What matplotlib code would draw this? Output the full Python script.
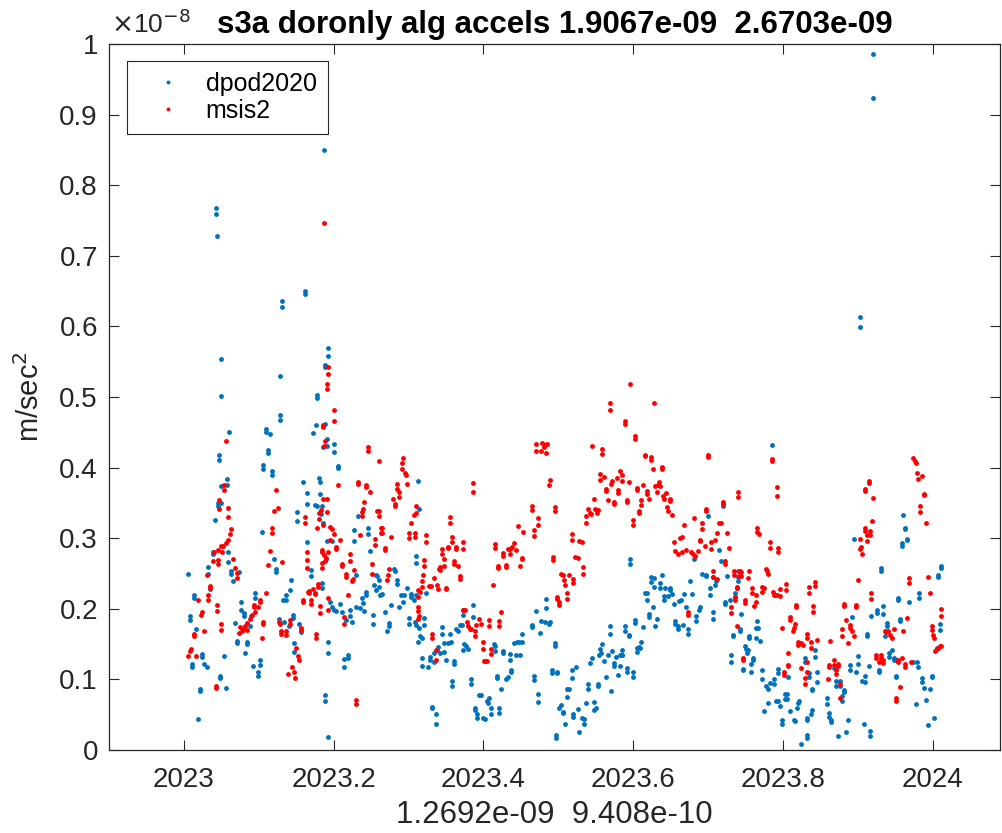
import numpy as np
import matplotlib
matplotlib.use("Agg")
import matplotlib.pyplot as plt

plt.rcParams['font.family'] = ['Liberation Sans', 'DejaVu Sans']

# ----- data: (day of 2023, acceleration in 1e-9 m/s^2) -----
dpod_seg1 = [
    (15.5, 7.68), (15.5, 7.59), (16.0, 7.28), (68.2, 8.50), (58.9, 6.50), (58.9, 6.46), (48.0, 6.36), (48.0, 6.27),
    (18.1, 5.54), (47.0, 5.30), (18.1, 5.02), (47.1, 4.75), (47.1, 4.68), (21.8, 4.51), (39.8, 4.55), (39.8, 4.50),
    (41.9, 4.47), (16.9, 4.18), (16.9, 4.11), (40.8, 4.25), (40.8, 4.20), (38.8, 4.03), (38.8, 3.98), (42.9, 3.95),
    (42.9, 3.89), (21.0, 3.84), (17.9, 3.74), (21.0, 3.75), (57.9, 3.80), (59.9, 3.64), (16.8, 3.50), (16.5, 3.46),
    (18.1, 3.50), (59.9, 3.48), (55.0, 3.37), (55.0, 3.24), (15.0, 3.26), (38.0, 3.09), (59.9, 2.94), (14.0, 2.80),
    (14.0, 2.77), (21.3, 2.80), (43.9, 2.70), (21.3, 2.66), (23.0, 2.54), (23.0, 2.50), (24.0, 2.39), (26.9, 2.52),
    (11.9, 2.59), (11.9, 2.50), (44.8, 2.56), (44.8, 2.52), (1.9, 2.49), (52.0, 2.41), (12.9, 2.28), (4.9, 2.20),
    (4.9, 2.16), (51.9, 2.26), (34.9, 2.23), (34.9, 2.16), (27.9, 2.09), (27.9, 1.99), (29.2, 1.94), (29.2, 1.90),
    (49.6, 2.19), (49.6, 2.13), (48.3, 2.13), (53.0, 1.91), (53.0, 1.87), (2.9, 1.90), (2.9, 1.84), (24.9, 1.80),
    (32.0, 1.76), (32.8, 1.90), (46.2, 1.86), (48.9, 1.82), (51.1, 1.75), (6.0, 1.71), (56.0, 1.78), (56.9, 1.67),
    (25.9, 1.54), (25.9, 1.52), (30.8, 1.53), (30.8, 1.50), (53.8, 1.51), (53.8, 1.39), (30.0, 1.38), (9.0, 1.36),
    (9.0, 1.32), (19.6, 1.33), (9.9, 1.22), (11.1, 1.18), (3.9, 1.22), (3.9, 1.17), (33.9, 1.19), (36.9, 1.27),
    (36.9, 1.21), (36.0, 1.10), (36.0, 1.05), (17.4, 1.05), (17.4, 1.02), (8.0, 0.87), (8.0, 0.83), (20.5, 0.88),
    (6.8, 0.44),
]
dpod_seg2 = [
    (70.2, 5.70), (70.2, 5.58), (68.7, 5.46), (68.7, 5.43), (65.0, 5.03), (65.0, 4.98), (64.5, 4.61), (68.7, 4.62),
    (63.0, 4.49), (70.0, 4.41), (67.8, 4.29), (70.0, 4.31), (73.3, 4.34), (73.3, 4.22), (74.9, 4.02), (74.9, 3.99),
    (66.0, 3.85), (66.4, 3.79), (66.4, 3.63), (63.8, 3.47), (65.0, 3.46), (67.4, 3.46), (66.9, 3.34), (67.9, 3.21),
    (114.3, 3.81), (114.4, 3.41), (85.0, 3.31), (82.9, 3.12), (82.9, 2.96), (89.9, 3.14), (89.9, 3.06), (90.8, 2.82),
    (69.7, 2.96), (72.0, 2.96), (69.1, 2.70), (62.0, 2.55), (62.0, 2.46), (113.4, 2.75), (113.4, 2.65), (84.1, 2.48),
    (102.2, 2.56), (102.8, 2.54), (104.0, 2.41), (104.0, 2.35), (93.5, 2.48), (94.0, 2.46), (95.0, 2.41), (95.3, 2.31),
    (95.7, 2.19), (96.8, 2.21), (92.7, 2.34), (93.5, 2.26), (67.1, 2.37), (67.1, 2.30), (108.9, 2.29), (89.0, 2.24),
    (89.0, 2.19), (87.0, 2.16), (87.3, 2.08), (85.9, 2.01), (88.0, 1.97), (84.1, 2.02), (110.8, 2.21), (110.8, 2.17),
    (105.9, 2.19), (107.2, 2.19), (106.9, 2.10), (105.0, 2.02), (113.1, 2.20), (112.1, 2.12), (118.0, 2.22), (72.0, 2.03),
    (73.0, 1.99), (74.0, 1.97), (71.0, 2.09), (76.1, 2.07), (77.1, 1.96), (81.0, 1.99), (80.8, 1.90), (82.1, 1.81),
    (79.2, 1.84), (92.1, 1.91), (92.1, 1.78), (97.9, 1.96), (101.0, 2.05), (99.9, 1.80), (99.9, 1.75), (98.9, 1.68),
    (109.7, 1.87), (109.7, 1.79), (112.8, 1.81), (113.4, 1.77), (114.6, 1.73), (116.9, 1.87), (116.9, 1.77), (115.2, 1.61),
    (116.0, 1.58), (113.9, 1.53), (70.5, 1.53), (70.5, 1.38), (80.0, 1.35), (80.0, 1.30), (78.0, 1.29), (78.0, 1.17),
    (116.2, 1.31), (116.2, 1.19), (118.8, 1.18), (120.0, 1.32), (120.0, 1.27), (121.9, 1.37), (121.9, 1.25), (123.2, 1.41),
    (123.9, 1.46), (68.9, 0.78), (68.9, 0.70), (121.0, 0.61), (121.0, 0.59), (122.8, 0.51), (122.8, 0.37), (70.4, 0.19),
]
dpod_seg3 = [
    (181.5, 0.21), (181.5, 0.17), (181.8, 1.11), (181.8, 1.09), (176.4, 2.14), (176.7, 2.01), (171.8, 1.97), (169.7, 1.77),
    (169.7, 1.74), (174.3, 1.83), (176.2, 1.81), (177.9, 1.78), (178.5, 1.82), (173.6, 1.66), (164.8, 1.64), (164.8, 1.53),
    (163.2, 1.53), (162.5, 1.53), (160.7, 1.51), (180.8, 1.51), (180.8, 1.48), (161.9, 1.34), (163.7, 1.35), (158.9, 1.36),
    (158.9, 1.28), (155.8, 1.40), (155.8, 1.38), (151.1, 1.50), (151.9, 1.48), (151.8, 1.40), (159.7, 1.14), (159.7, 1.11),
    (157.8, 1.04), (156.8, 1.00), (152.7, 1.05), (152.7, 1.02), (154.7, 0.86), (170.8, 1.05), (170.8, 0.99), (172.8, 0.79),
    (172.8, 0.68), (179.7, 1.14), (179.7, 1.09), (140.8, 2.06), (141.0, 1.89), (136.1, 1.91), (136.1, 1.98), (134.8, 1.77),
    (135.6, 1.77), (132.8, 1.71), (133.5, 1.68), (129.9, 1.64), (130.0, 1.53), (128.6, 1.51), (125.8, 1.74), (125.8, 1.64),
    (126.9, 1.51), (124.7, 1.38), (126.9, 1.39), (127.8, 1.27), (131.8, 1.26), (131.8, 1.22), (136.7, 1.50), (137.6, 1.48),
    (138.7, 1.43), (135.9, 1.42), (130.9, 0.98), (130.9, 0.91), (139.8, 1.00), (139.8, 0.94), (146.7, 0.44), (145.7, 0.46),
    (142.8, 0.51), (142.8, 0.46), (141.8, 0.59), (141.8, 0.56), (144.1, 0.78), (144.9, 0.78), (147.8, 0.69), (148.5, 0.66),
    (149.8, 0.60), (149.8, 0.51), (148.8, 0.74), (153.7, 0.59), (153.7, 0.52), (182.8, 0.60), (183.7, 0.64), (184.9, 0.54),
    (184.9, 0.52), (185.7, 0.37), (186.8, 0.86), (187.5, 0.87),
]
dpod_seg4 = [
    (217.7, 2.70), (217.7, 2.64), (227.7, 2.45), (229.0, 2.44), (232.9, 2.48), (227.7, 2.38), (229.2, 2.31), (231.9, 2.30),
    (231.9, 2.37), (225.7, 2.22), (224.8, 2.22), (225.7, 2.12), (234.5, 2.30), (236.8, 2.30), (236.8, 2.27), (235.9, 2.18),
    (233.9, 2.18), (233.9, 2.12), (237.8, 2.21), (241.6, 2.11), (242.4, 2.12), (243.8, 2.21), (238.8, 2.07), (244.8, 2.02),
    (246.8, 2.40), (247.9, 2.21), (248.9, 2.70), (228.7, 2.02), (226.7, 1.92), (226.7, 1.89), (230.6, 1.85), (229.8, 1.76),
    (223.8, 1.74), (239.6, 1.83), (239.6, 1.79), (240.7, 1.76), (240.7, 1.72), (243.2, 1.77), (245.8, 1.71), (245.8, 1.65),
    (249.7, 1.90), (249.7, 1.83), (250.9, 1.99), (251.5, 2.03), (219.9, 1.84), (219.9, 1.80), (214.8, 1.76), (214.8, 1.69),
    (216.9, 1.63), (216.9, 1.61), (223.0, 1.53), (220.8, 1.44), (221.7, 1.46), (222.5, 1.45), (220.8, 1.39), (207.8, 1.75),
    (207.8, 1.65), (213.7, 1.42), (213.7, 1.34), (203.7, 1.50), (202.9, 1.43), (203.5, 1.38), (202.6, 1.35), (208.8, 1.40),
    (206.8, 1.35), (210.7, 1.32), (212.7, 1.34), (213.8, 1.34), (198.8, 1.30), (198.0, 1.23), (204.8, 1.26), (209.7, 1.23),
    (209.7, 1.19), (212.7, 1.19), (215.9, 1.16), (215.9, 1.11), (218.9, 1.10), (218.9, 1.04), (211.5, 1.06), (191.0, 1.18),
    (189.0, 1.13), (189.0, 1.02), (206.0, 1.03), (196.8, 0.93), (196.8, 0.86), (201.9, 0.93), (201.9, 0.90), (208.1, 0.84),
    (186.9, 0.75), (189.8, 0.51), (189.8, 0.47), (191.9, 0.58), (193.9, 0.46), (194.9, 0.44), (194.9, 0.37), (195.9, 0.67),
    (200.1, 0.68), (200.9, 0.59), (199.9, 0.57), (192.8, 0.26),
]
dpod_seg5 = [
    (286.7, 4.32), (255.7, 3.31), (262.6, 3.46), (260.9, 2.83), (261.9, 2.68), (252.8, 2.49), (254.7, 2.48), (254.7, 2.46),
    (257.7, 2.45), (259.6, 2.40), (259.0, 2.34), (256.4, 2.29), (256.7, 2.19), (264.9, 2.46), (269.9, 2.53), (270.2, 2.45),
    (270.1, 2.39), (269.6, 2.29), (268.9, 2.22), (268.8, 2.17), (263.9, 2.09), (263.9, 2.07), (266.0, 2.12), (257.7, 1.96),
    (257.7, 1.85), (271.7, 1.92), (270.9, 1.71), (270.9, 1.69), (279.5, 1.83), (279.1, 1.73), (279.9, 1.73), (275.6, 1.62),
    (275.6, 1.59), (278.7, 1.58), (280.8, 1.54), (267.8, 1.63), (267.8, 1.61), (266.8, 1.34), (266.8, 1.24), (273.5, 1.47),
    (273.8, 1.43), (274.6, 1.38), (275.1, 1.41), (276.4, 1.22), (277.6, 1.30), (277.6, 1.27), (272.7, 1.15), (272.7, 1.13),
    (276.6, 1.11), (281.7, 1.13), (281.7, 1.00), (283.8, 0.90), (284.8, 0.86), (285.7, 0.95), (287.7, 1.00), (287.7, 0.93),
    (289.7, 1.15), (289.7, 1.09), (294.7, 1.03), (292.8, 0.80), (293.9, 0.79), (292.9, 0.72), (293.9, 0.72), (289.7, 0.70),
    (290.6, 0.63), (288.7, 0.69), (284.8, 0.67), (282.6, 0.55), (291.8, 0.43), (291.8, 0.37), (295.7, 0.55), (297.3, 0.42),
    (298.1, 0.41), (299.0, 0.59), (299.6, 0.67), (299.8, 0.69), (300.8, 0.09), (303.9, 0.21), (303.9, 0.17), (303.7, 0.46),
    (303.7, 0.42), (306.1, 0.57), (305.7, 0.51), (302.7, 1.30), (302.7, 1.24), (307.6, 1.41), (307.6, 1.32), (306.1, 0.87),
    (306.1, 0.85), (304.5, 1.09), (304.5, 1.03), (308.6, 1.11), (308.6, 0.97), (313.7, 0.74), (313.7, 0.65), (314.6, 0.52),
    (314.6, 0.47),
]
dpod_seg6 = [
    (335.7, 9.86), (335.7, 9.24), (329.6, 6.14), (329.6, 5.99),
    (350.7, 3.33), (351.7, 3.15), (351.7, 3.13), (352.7, 2.99), (352.7, 2.97), (350.1, 2.93), (350.1, 2.89), (326.6, 2.99),
    (339.6, 2.58), (339.6, 2.54), (369.2, 2.61), (369.2, 2.58), (367.4, 2.48), (367.4, 2.45), (358.6, 2.22), (358.6, 2.15),
    (348.1, 2.16), (348.1, 2.12), (353.7, 2.09), (340.8, 2.04), (337.7, 1.98), (337.7, 1.94), (340.6, 1.92), (335.1, 1.90),
    (325.6, 1.89), (349.1, 1.86), (349.1, 1.83), (342.8, 1.80), (342.8, 1.76), (368.5, 1.78), (368.5, 1.70), (333.0, 1.65),
    (333.0, 1.62), (341.6, 1.61), (366.9, 1.44), (367.6, 1.45), (345.0, 1.42), (343.9, 1.38), (343.9, 1.32), (346.0, 1.30),
    (346.0, 1.27), (347.0, 1.27), (328.6, 1.33), (328.6, 1.22), (324.8, 1.20), (324.8, 1.14), (327.7, 1.10), (333.8, 1.19),
    (338.8, 1.14), (338.8, 1.10), (355.5, 1.25), (357.6, 1.24), (357.9, 1.18), (347.2, 1.05), (347.2, 1.03), (359.6, 1.02),
    (359.6, 0.96), (364.8, 1.05), (364.8, 1.03), (316.8, 1.16), (317.8, 0.98), (319.7, 0.98), (319.7, 0.90), (317.8, 0.91),
    (330.5, 0.98), (332.1, 0.96), (332.1, 1.05), (360.7, 0.88), (363.6, 0.86), (321.7, 0.85), (321.7, 0.82), (320.7, 0.77),
    (320.7, 0.69), (361.8, 0.71), (356.8, 0.65), (315.7, 0.42), (315.7, 0.40), (323.7, 0.42), (331.7, 0.37), (365.6, 0.46),
    (362.7, 0.35), (334.4, 0.27), (334.4, 0.20), (322.7, 0.25), (318.8, 0.20),
]

msis_seg1 = [
    (68.2, 7.47), (20.4, 4.38), (44.7, 3.68), (43.9, 3.39), (46.0, 3.43), (19.6, 3.75), (19.4, 3.68), (17.3, 3.54),
    (17.3, 3.42), (21.4, 3.43), (21.4, 3.30), (23.0, 3.13), (22.3, 3.06), (21.4, 2.97), (20.4, 2.93), (19.2, 2.89),
    (18.1, 2.89), (16.5, 2.83), (14.8, 2.80), (14.0, 2.67), (16.8, 2.69), (16.8, 2.64), (18.4, 2.80), (42.9, 3.14),
    (42.9, 3.07), (41.9, 2.82), (40.8, 2.62), (48.0, 2.66), (58.9, 3.30), (58.9, 3.22), (60.2, 2.80), (59.9, 2.69),
    (59.9, 2.58), (24.0, 2.70), (24.9, 2.58), (26.1, 2.51), (26.1, 2.43), (11.1, 2.48), (12.9, 2.32), (12.9, 2.30),
    (11.9, 2.19), (11.9, 2.12), (16.0, 2.06), (16.0, 1.97), (7.0, 2.12), (9.0, 1.96), (8.3, 1.91), (40.0, 2.22),
    (36.9, 2.13), (36.9, 2.10), (34.1, 2.06), (34.1, 2.03), (35.9, 2.03), (34.9, 1.95), (33.0, 1.91), (32.0, 1.86),
    (31.0, 1.80), (29.8, 1.75), (29.0, 1.71), (27.2, 1.74), (27.1, 1.66), (28.5, 1.69), (30.7, 1.70), (38.8, 1.81),
    (38.8, 1.78), (18.1, 1.78), (18.1, 1.70), (9.8, 1.68), (4.9, 1.64), (4.9, 1.61), (38.0, 1.58), (46.6, 1.82),
    (47.1, 1.78), (47.3, 1.68), (47.3, 1.65), (49.7, 1.68), (49.7, 1.63), (51.9, 1.84), (51.9, 1.79), (56.9, 1.73),
    (56.9, 1.70), (57.9, 2.12), (57.9, 2.09), (60.5, 2.24), (54.8, 1.44), (55.6, 1.33), (56.0, 1.27), (3.7, 1.43),
    (3.1, 1.40), (2.1, 1.33), (6.0, 1.33), (52.7, 1.18), (53.5, 1.11), (54.0, 1.02), (50.9, 1.07), (15.5, 0.91),
    (15.5, 0.88),
]
msis_seg2 = [
    (70.2, 5.42), (70.2, 5.33), (69.9, 5.19), (69.9, 5.12), (73.3, 4.81), (73.3, 4.66), (67.8, 4.60), (67.8, 4.58),
    (68.7, 4.37), (68.4, 4.30), (89.9, 4.29), (89.9, 4.23), (95.2, 4.09), (106.9, 4.13), (106.1, 4.06), (106.1, 3.98),
    (107.7, 3.93), (108.1, 3.89), (108.9, 3.77), (74.9, 3.75), (84.9, 3.80), (84.9, 3.77), (89.0, 3.76), (89.0, 3.72),
    (90.9, 3.66), (103.8, 3.77), (103.8, 3.70), (104.8, 3.65), (104.8, 3.59), (101.9, 3.55), (103.0, 3.49), (103.0, 3.46),
    (88.0, 3.51), (87.5, 3.42), (87.0, 3.37), (87.0, 3.31), (94.0, 3.38), (95.0, 3.38), (95.0, 3.31), (67.6, 3.55),
    (69.7, 3.55), (66.0, 3.35), (66.8, 3.40), (69.7, 3.37), (66.0, 3.27), (67.6, 3.18), (65.0, 3.14), (71.2, 3.16),
    (72.0, 3.13), (73.0, 3.06), (71.0, 2.97), (75.9, 2.97), (74.0, 2.87), (74.0, 2.85), (67.4, 2.83), (67.3, 2.81),
    (68.4, 2.76), (69.1, 2.72), (68.9, 2.68), (70.4, 2.80), (67.1, 2.65), (67.1, 2.58), (85.9, 3.05), (93.0, 2.99),
    (93.0, 2.90), (96.0, 3.15), (96.8, 3.15), (96.0, 3.08), (96.8, 3.08), (100.9, 3.01), (97.9, 2.86), (97.9, 2.83),
    (109.9, 3.08), (109.9, 3.00), (112.8, 3.08), (112.8, 3.02), (117.9, 3.04), (117.9, 2.94), (110.8, 3.21), (112.0, 3.33),
    (113.1, 3.35), (113.4, 3.45), (80.8, 2.78), (80.8, 2.68), (76.9, 2.64), (76.9, 2.61), (83.1, 2.55), (82.6, 2.42),
    (81.8, 2.39), (78.8, 2.49), (78.8, 2.45), (91.9, 2.63), (91.9, 2.50), (100.1, 2.56), (99.7, 2.48), (99.1, 2.41),
    (116.9, 2.69), (116.9, 2.60), (116.4, 2.48), (116.2, 2.40), (115.9, 2.31), (121.9, 2.44), (124.4, 2.57), (119.6, 2.33),
    (120.5, 2.33), (123.6, 2.34), (114.3, 2.27), (115.1, 2.24), (114.3, 2.17), (80.0, 2.20), (60.9, 2.25), (60.9, 2.23),
    (62.9, 2.28), (63.8, 2.23), (63.8, 2.21), (65.5, 2.35), (65.5, 2.31), (62.0, 2.13), (62.0, 2.07), (66.3, 2.04),
    (66.3, 1.94), (70.5, 2.15), (70.5, 1.99), (78.0, 1.88), (77.9, 1.78), (113.9, 2.03), (114.1, 1.97), (114.4, 1.90),
    (113.9, 1.86), (64.5, 1.64), (64.5, 1.58), (121.0, 1.64), (121.0, 1.59), (122.9, 1.42), (122.9, 1.28), (83.7, 0.71),
    (83.7, 0.65),
]
msis_seg3 = [
    (171.8, 4.34), (174.3, 4.24), (171.8, 4.23), (174.8, 4.35), (175.9, 4.32), (176.9, 4.34), (175.6, 4.29), (176.7, 4.20),
    (178.7, 3.82), (177.9, 3.75), (180.8, 3.44), (180.8, 3.39), (169.9, 3.45), (169.9, 3.40), (172.6, 3.29), (172.6, 3.18),
    (170.7, 3.11), (170.7, 3.03), (162.9, 3.17), (165.1, 3.09), (140.8, 3.78), (140.8, 3.65), (129.9, 3.30), (129.9, 3.22),
    (130.9, 3.02), (130.9, 2.94), (136.1, 2.95), (136.1, 2.84), (128.7, 2.88), (128.7, 2.86), (132.8, 2.87), (132.8, 2.84),
    (125.8, 2.85), (126.9, 2.71), (125.8, 2.77), (125.0, 2.59), (125.0, 2.55), (126.9, 2.61), (131.8, 2.67), (131.8, 2.63),
    (133.8, 2.61), (134.8, 2.46), (134.8, 2.42), (124.0, 2.28), (127.8, 2.30), (127.8, 2.28), (151.9, 2.92), (151.9, 2.86),
    (152.9, 2.61), (152.9, 2.58), (155.8, 2.79), (155.8, 2.75), (157.0, 2.62), (157.0, 2.59), (157.9, 2.85), (158.9, 2.85),
    (159.9, 2.87), (160.9, 2.93), (161.9, 2.83), (158.9, 2.77), (163.8, 2.61), (164.8, 2.72), (164.8, 2.70), (150.9, 2.34),
    (179.8, 2.74), (179.8, 2.69), (183.7, 2.49), (184.6, 2.48), (185.5, 2.41), (187.5, 2.48), (181.8, 2.17), (181.8, 2.14),
    (182.8, 2.09), (182.8, 2.06), (186.8, 2.22), (186.8, 2.14), (135.9, 1.98), (136.9, 1.98), (137.9, 1.81), (138.7, 1.75),
    (139.3, 1.72), (140.0, 1.72), (141.9, 1.69), (142.6, 1.77), (143.9, 1.86), (144.7, 1.79), (141.8, 1.61), (148.8, 1.84),
    (148.8, 1.76), (153.7, 1.83), (153.7, 1.75), (154.5, 1.95), (145.7, 1.53), (145.7, 1.43), (149.8, 1.43), (149.8, 1.36),
    (146.2, 1.26), (147.0, 1.26), (148.0, 1.26),
]
msis_seg4 = [
    (217.7, 5.19), (207.8, 4.92), (207.8, 4.81), (229.2, 4.91), (214.8, 4.66), (214.8, 4.62), (219.9, 4.45), (219.9, 4.41),
    (199.0, 4.31), (203.9, 4.27), (203.9, 4.19), (224.9, 4.18), (224.9, 4.16), (227.9, 4.15), (227.9, 4.11), (228.8, 3.98),
    (232.9, 4.01), (232.9, 3.98), (202.9, 3.91), (202.9, 3.83), (204.8, 3.87), (212.8, 3.95), (213.8, 3.90), (213.8, 3.81),
    (210.9, 3.85), (208.8, 3.81), (208.1, 3.77), (205.8, 3.69), (205.8, 3.67), (211.5, 3.68), (211.5, 3.64), (216.9, 3.79),
    (206.8, 3.54), (209.7, 3.51), (209.7, 3.49), (215.8, 3.54), (215.8, 3.51), (221.0, 3.71), (221.0, 3.68), (223.9, 3.75),
    (225.9, 3.67), (225.9, 3.63), (226.9, 3.56), (223.0, 3.54), (223.0, 3.47), (221.8, 3.39), (221.8, 3.36), (218.9, 3.26),
    (218.9, 3.18), (229.6, 3.74), (230.9, 3.76), (231.8, 3.80), (231.9, 3.74), (230.8, 3.66), (234.9, 3.64), (233.7, 3.60),
    (233.9, 3.56), (236.8, 3.56), (236.8, 3.53), (235.5, 3.44), (235.9, 3.38), (237.8, 3.33), (199.8, 3.56), (196.8, 3.41),
    (196.0, 3.31), (195.9, 3.21), (197.8, 3.35), (198.3, 3.34), (200.3, 3.42), (201.3, 3.40), (201.3, 3.35), (202.1, 3.40),
    (244.0, 3.19), (248.9, 3.28), (241.7, 3.00), (242.7, 3.01), (238.8, 2.95), (251.4, 2.97), (239.6, 2.82), (240.7, 2.77),
    (242.9, 2.81), (245.0, 2.83), (247.0, 2.81), (248.3, 2.78), (249.2, 2.75), (250.5, 2.82), (245.8, 1.96), (245.8, 1.91),
    (189.0, 3.06), (189.0, 2.97), (192.8, 2.96), (193.9, 2.95), (190.8, 2.73), (192.0, 2.72), (194.7, 2.59), (194.7, 2.49),
    (185.9, 2.34), (189.8, 2.42), (189.8, 2.36),
]
msis_seg5 = [
    (255.7, 4.18), (255.7, 4.15), (286.6, 4.12), (286.6, 4.09), (289.0, 3.72), (289.0, 3.60), (270.1, 3.65), (270.1, 3.58),
    (262.6, 3.51), (262.6, 3.48), (254.7, 3.41), (254.7, 3.39), (252.8, 3.21), (252.8, 3.13), (260.8, 3.21), (261.9, 3.22),
    (259.8, 3.07), (258.8, 2.97), (256.9, 2.95), (257.0, 2.84), (264.9, 3.07), (251.8, 2.96), (253.8, 2.89), (265.8, 2.86),
    (279.5, 3.15), (279.5, 3.09), (280.5, 3.06), (285.6, 2.95), (285.6, 2.86), (289.7, 2.86), (289.7, 2.80), (263.9, 2.68),
    (263.9, 2.64), (257.8, 2.54), (257.7, 2.45), (260.0, 2.42), (283.6, 2.57), (284.1, 2.53), (284.9, 2.49), (268.0, 2.53),
    (268.0, 2.48), (271.1, 2.54), (271.7, 2.52), (271.4, 2.46), (270.6, 2.46), (275.6, 2.54), (274.8, 2.43), (269.7, 2.31),
    (269.7, 2.29), (276.8, 2.30), (276.8, 2.23), (281.8, 2.31), (282.6, 2.30), (281.8, 2.24), (278.9, 2.19), (268.8, 2.17),
    (268.8, 2.12), (273.7, 2.12), (273.7, 2.08), (278.1, 2.04), (278.7, 2.10), (266.6, 2.03), (266.6, 1.94), (269.7, 1.75),
    (287.4, 2.24), (287.7, 2.19), (288.4, 2.19), (289.3, 2.20), (290.6, 2.18), (290.6, 2.28), (293.7, 2.35), (293.7, 2.27),
    (298.6, 2.05), (298.6, 2.03), (304.7, 2.31), (304.7, 2.22), (307.6, 2.38), (307.6, 2.33), (306.8, 2.04), (306.8, 1.96),
    (295.7, 1.89), (295.7, 1.84), (291.8, 1.73), (297.8, 1.79), (297.2, 1.73), (296.7, 1.68), (299.6, 1.53), (300.8, 1.52),
    (301.9, 1.49), (299.6, 1.49), (303.7, 1.64), (303.7, 1.58), (305.7, 1.53), (308.6, 1.56), (305.7, 1.45), (315.1, 1.55),
    (272.8, 1.30), (272.8, 1.27), (294.7, 1.38), (294.7, 1.21), (294.7, 1.19), (300.8, 1.16), (304.0, 1.25), (292.6, 1.10),
    (292.6, 1.06), (304.0, 1.11), (302.7, 1.02), (302.7, 0.93), (313.8, 1.01), (314.6, 1.21), (314.6, 1.18),
]
msis_seg6 = [
    (355.6, 4.13), (356.3, 4.10), (356.8, 4.06), (357.6, 3.92), (359.7, 3.88), (357.8, 3.84), (333.8, 3.81), (333.8, 3.78),
    (332.1, 3.70), (332.1, 3.67), (335.7, 3.57), (360.7, 3.63), (360.7, 3.61), (358.7, 3.46), (358.7, 3.37), (335.6, 3.25),
    (361.7, 3.21), (331.8, 3.14), (331.8, 3.10), (334.6, 3.10), (334.6, 3.04), (333.1, 3.04), (333.1, 2.96), (329.7, 2.99),
    (330.3, 2.88), (329.4, 2.85), (330.7, 2.78), (353.7, 2.43), (353.7, 2.37), (362.7, 2.45), (328.7, 2.41), (335.1, 2.22),
    (335.1, 2.14), (363.6, 2.23), (321.9, 2.07), (321.9, 2.04), (327.7, 2.05), (327.7, 2.03), (369.2, 2.00), (369.2, 1.90),
    (322.7, 1.84), (324.8, 1.77), (324.8, 1.73), (325.8, 1.68), (326.8, 1.61), (320.7, 1.71), (320.7, 1.62), (323.7, 1.52),
    (352.7, 1.87), (364.6, 1.75), (364.6, 1.70), (365.4, 1.63), (365.8, 1.58), (346.2, 1.71), (350.6, 1.68), (341.6, 1.69),
    (342.4, 1.67), (343.2, 1.68), (344.1, 1.63), (345.2, 1.59), (366.4, 1.40), (366.9, 1.43), (367.6, 1.45), (368.4, 1.47),
    (368.9, 1.48), (337.5, 1.35), (337.5, 1.31), (339.7, 1.34), (339.7, 1.30), (340.6, 1.28), (338.7, 1.25), (340.6, 1.23),
    (348.1, 1.28), (348.1, 1.25), (350.1, 1.30), (351.7, 1.22), (351.7, 1.17), (354.5, 1.24), (316.8, 1.28), (316.8, 1.21),
    (318.8, 1.22), (318.8, 1.19), (317.8, 1.13), (317.8, 1.07), (319.7, 0.93), (319.7, 0.73), (349.1, 0.89), (347.2, 0.74),
    (347.2, 0.70),
]

title_txt = "s3a doronly alg accels 1.9067e-09  2.6703e-09"
xlabel_txt = "1.2692e-09  9.408e-10"
xticks = [2023, 2023.2, 2023.4, 2023.6, 2023.8, 2024]

dpod = np.array(dpod_seg1 + dpod_seg2 + dpod_seg3 + dpod_seg4 + dpod_seg5 + dpod_seg6)
msis = np.array(msis_seg1 + msis_seg2 + msis_seg3 + msis_seg4 + msis_seg5 + msis_seg6)

BLUE = "#0072BD"
RED = "#FF0000"
AX = "#262626"

fig = plt.figure(figsize=(10.02, 8.33), dpi=100)
ax = fig.add_axes([109 / 1002, 83 / 833, 891 / 1002, 706 / 833])

ax.plot(2023 + dpod[:, 0] / 365, dpod[:, 1] * 1e-9, "o", color=BLUE, ms=3.5, mew=0, label="dpod2020")
ax.plot(2023 + msis[:, 0] / 365, msis[:, 1] * 1e-9, "o", color=RED, ms=3.5, mew=0, label="msis2")

ax.set_xlim(2022.9, 2024.09)
ax.set_ylim(0, 1e-8)
ax.set_xticks(xticks)
ax.set_xticklabels([f"{t:g}" for t in xticks])
yt = np.arange(0, 11) * 1e-9
ax.set_yticks(yt)
ax.set_yticklabels([f"{v / 1e-8:.1f}".rstrip("0").rstrip(".") if v else "0" for v in yt])

ax.tick_params(direction="in", length=7, width=0.8, colors=AX, labelsize=20,
               top=True, right=True)
ax.tick_params(axis="x", pad=12)
ax.tick_params(axis="y", pad=8)
for s in ax.spines.values():
    s.set_color(AX)
    s.set_linewidth(0.9)

ax.set_title(title_txt, fontsize=22.5, fontweight="bold", pad=8)
ax.set_xlabel(xlabel_txt, fontsize=22.5, color=AX, labelpad=5)
ax.set_ylabel("m/sec$^2$", fontsize=21, color=AX, labelpad=10)
ax.text(0.002, 1.008, r"$\times$10$^{-8}$", transform=ax.transAxes, fontsize=19,
        color=AX, ha="left", va="bottom")

leg = ax.legend(loc="upper left", bbox_to_anchor=(0.0202, 0.976), borderaxespad=0,
                fontsize=18, frameon=True, fancybox=False, framealpha=1, edgecolor=AX,
                markerscale=0.8, handlelength=2.4, handletextpad=0.3, borderpad=0.45,
                labelspacing=0.1)
leg.get_frame().set_linewidth(0.8)

fig.savefig("out.png", dpi=100)
